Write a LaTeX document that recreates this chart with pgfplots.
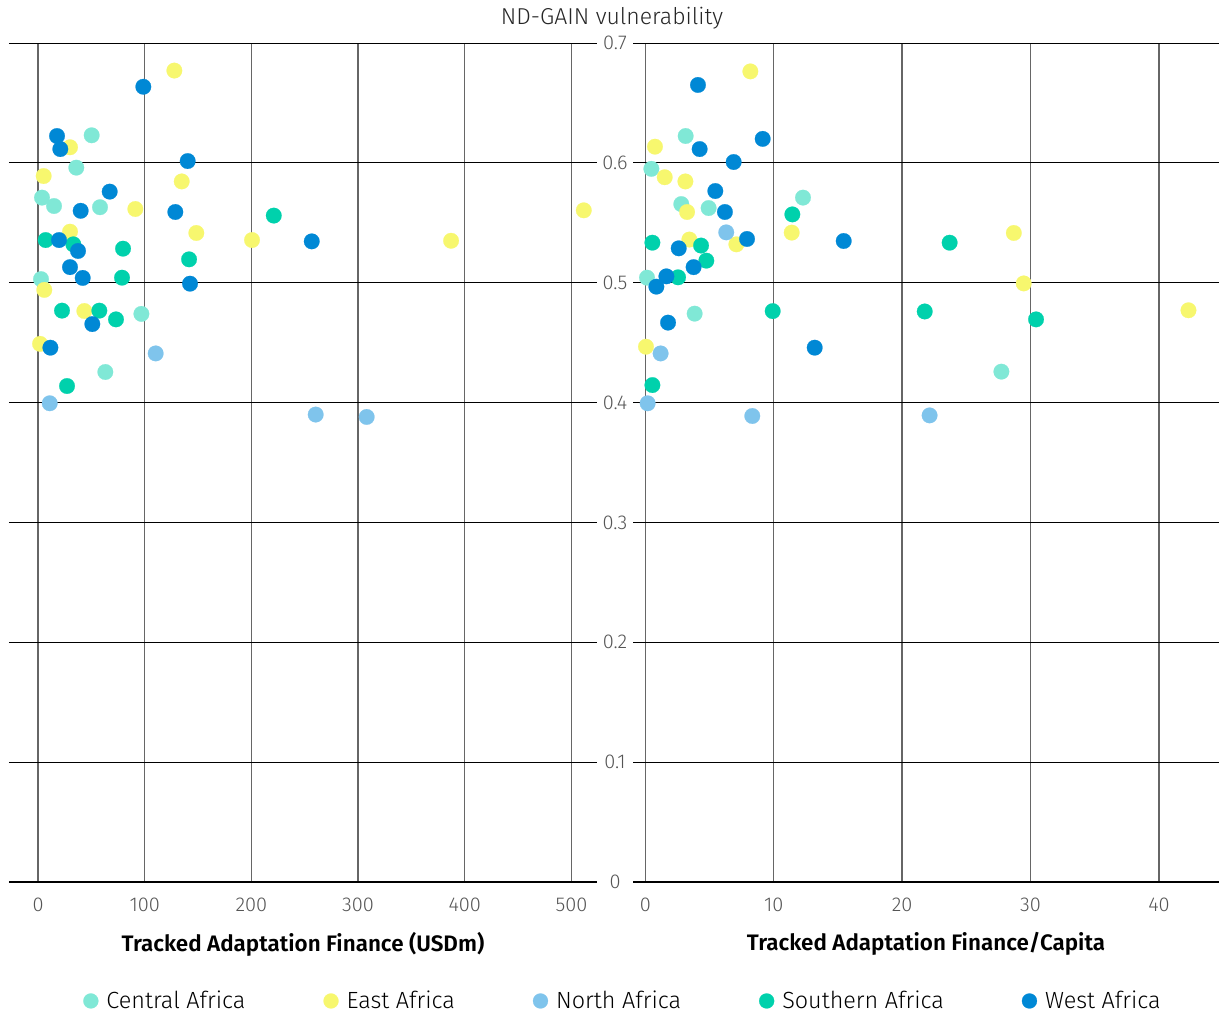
\documentclass[border=0pt]{standalone}
\usepackage{pgfplots}
\pgfplotsset{compat=1.18}
\usepackage{fontspec}
\setmainfont{Fira Sans Light}[BoldFont={Fira Sans SemiBold}]
\definecolor{cCen}{HTML}{80E8D6}
\definecolor{cEast}{HTML}{F7F76E}
\definecolor{cNorth}{HTML}{7FC4EC}
\definecolor{cSouth}{HTML}{00D1AC}
\definecolor{cWest}{HTML}{0088D5}
\definecolor{tickgray}{HTML}{555555}
\pgfplotsset{
 panel/.style={
  scale only axis, height=419.5pt,
  ymin=0, ymax=0.7, ytick={0,0.1,0.2,0.3,0.4,0.5,0.6,0.7},
  axis x line*=bottom, axis y line*=left,
  x axis line style={-, black, line width=1pt},
  y axis line style={draw=none},
  major tick length=0pt,
  xmajorgrids, ymajorgrids,
  x grid style={black!60, line width=0.7pt},
  y grid style={black, line width=0.5pt},
  tick label style={font=\fontsize{10}{12}\selectfont, text=tickgray},
  /pgf/number format/assume math mode=true,
  xticklabel style={yshift=-4.5pt},
  xlabel style={font=\bfseries\fontsize{11.2}{13}\selectfont, at={(axis description cs:0.5,0)}, anchor=center, yshift=-31pt},
  clip=false,
 },
 sc/.style={only marks, mark=*, mark size=3.9pt, mark options={draw=#1, fill=#1, line width=0.1pt}},
}
\begin{document}
\begin{tikzpicture}
\useasboundingbox (0,0) rectangle (609.5pt,508pt);
\begin{axis}[panel, at={(4.5pt,67pt)}, anchor=south west, width=294pt,
  xmin=-27.2, xmax=524, xtick={0,100,200,300,400,500}, yticklabels={},
  xlabel={Tracked Adaptation Finance (USDm)},
  legend columns=5,
  legend style={at={(axis description cs:1.046,-0.1418)}, anchor=center, draw=none, fill=none,
    font=\fontsize{11.7}{14}\selectfont,
    /tikz/every even column/.append style={column sep=37pt}},
  legend image code/.code={\draw[#1, mark size=3.75pt] plot coordinates {(0,0)}; \path[draw=none] (0,0) -- (5.8pt,0);},
  legend cell align=left]
\addplot[sc=cCen] coordinates {(50.3,0.623)(35.9,0.596)(3.75,0.571)(15,0.564)(58.1,0.563)(2.8,0.503)(96.9,0.474)(63.1,0.4255)};
\addlegendentry{Central Africa}
\addplot[sc=cEast] coordinates {(127.8,0.677)(30,0.613)(5.3,0.589)(134.7,0.5845)(91.2,0.5615)(148.4,0.5415)(200.6,0.5356)(30,0.5426)(5.9,0.494)(43.4,0.4764)(1.9,0.449)(387.2,0.535)(511.6,0.5604)};
\addlegendentry{East Africa}
\addplot[sc=cNorth] coordinates {(110.3,0.441)(11,0.3994)(260.3,0.390)(308.1,0.388)};
\addlegendentry{North Africa}
\addplot[sc=cSouth] coordinates {(221,0.556)(7.2,0.5356)(33.1,0.532)(79.7,0.5284)(141.6,0.5195)(78.75,0.5042)(22.5,0.4767)(57.5,0.4767)(73.1,0.4694)(27.2,0.4138)};
\addlegendentry{Southern Africa}
\addplot[sc=cWest] coordinates {(98.7,0.6635)(17.8,0.6224)(20.9,0.6115)(140.3,0.6015)(67.2,0.576)(40,0.560)(128.7,0.559)(256.6,0.5345)(19.7,0.5356)(37.5,0.5265)(30,0.513)(41.9,0.504)(142.5,0.4992)(50.9,0.4655)(11.6,0.4458)};
\addlegendentry{West Africa}
\end{axis}
\begin{axis}[panel, at={(316.5pt,67pt)}, anchor=south west, width=293pt,
  xmin=-0.96, xmax=44.68, xtick={0,10,20,30,40},
  yticklabel style={anchor=center, xshift=-9pt},
  xlabel={Tracked Adaptation Finance/Capita}]
\addplot[sc=cCen] coordinates {(3.14,0.6224)(0.47,0.595)(12.28,0.571)(2.8,0.5656)(4.93,0.5623)(0.13,0.5042)(3.84,0.4742)(27.73,0.4258)};
\addplot[sc=cEast] coordinates {(8.18,0.6763)(0.75,0.6135)(1.51,0.588)(3.12,0.5845)(3.25,0.559)(11.4,0.5418)(3.43,0.536)(7.09,0.532)(0.05,0.4466)(28.7,0.5415)(29.47,0.4994)(42.3,0.477)};
\addplot[sc=cNorth] coordinates {(6.3,0.542)(1.19,0.441)(0.18,0.3994)(8.33,0.3888)(22.14,0.3893)};
\addplot[sc=cSouth] coordinates {(11.45,0.557)(0.55,0.5334)(4.34,0.531)(4.75,0.5184)(2.55,0.5045)(9.92,0.4763)(0.55,0.4146)(23.7,0.5334)(21.76,0.476)(30.43,0.4694)};
\addplot[sc=cWest] coordinates {(4.1,0.665)(4.23,0.6115)(9.14,0.620)(6.88,0.6007)(5.45,0.5765)(6.2,0.559)(7.92,0.5365)(15.45,0.5348)(2.6,0.5287)(3.76,0.513)(1.64,0.5053)(0.86,0.4967)(1.77,0.4667)(13.19,0.4458)};
\end{axis}
\node[font=\fontsize{11.5}{13}\selectfont, text=black!85] at (306pt,499pt) {ND-GAIN vulnerability};
\end{tikzpicture}
\end{document}
